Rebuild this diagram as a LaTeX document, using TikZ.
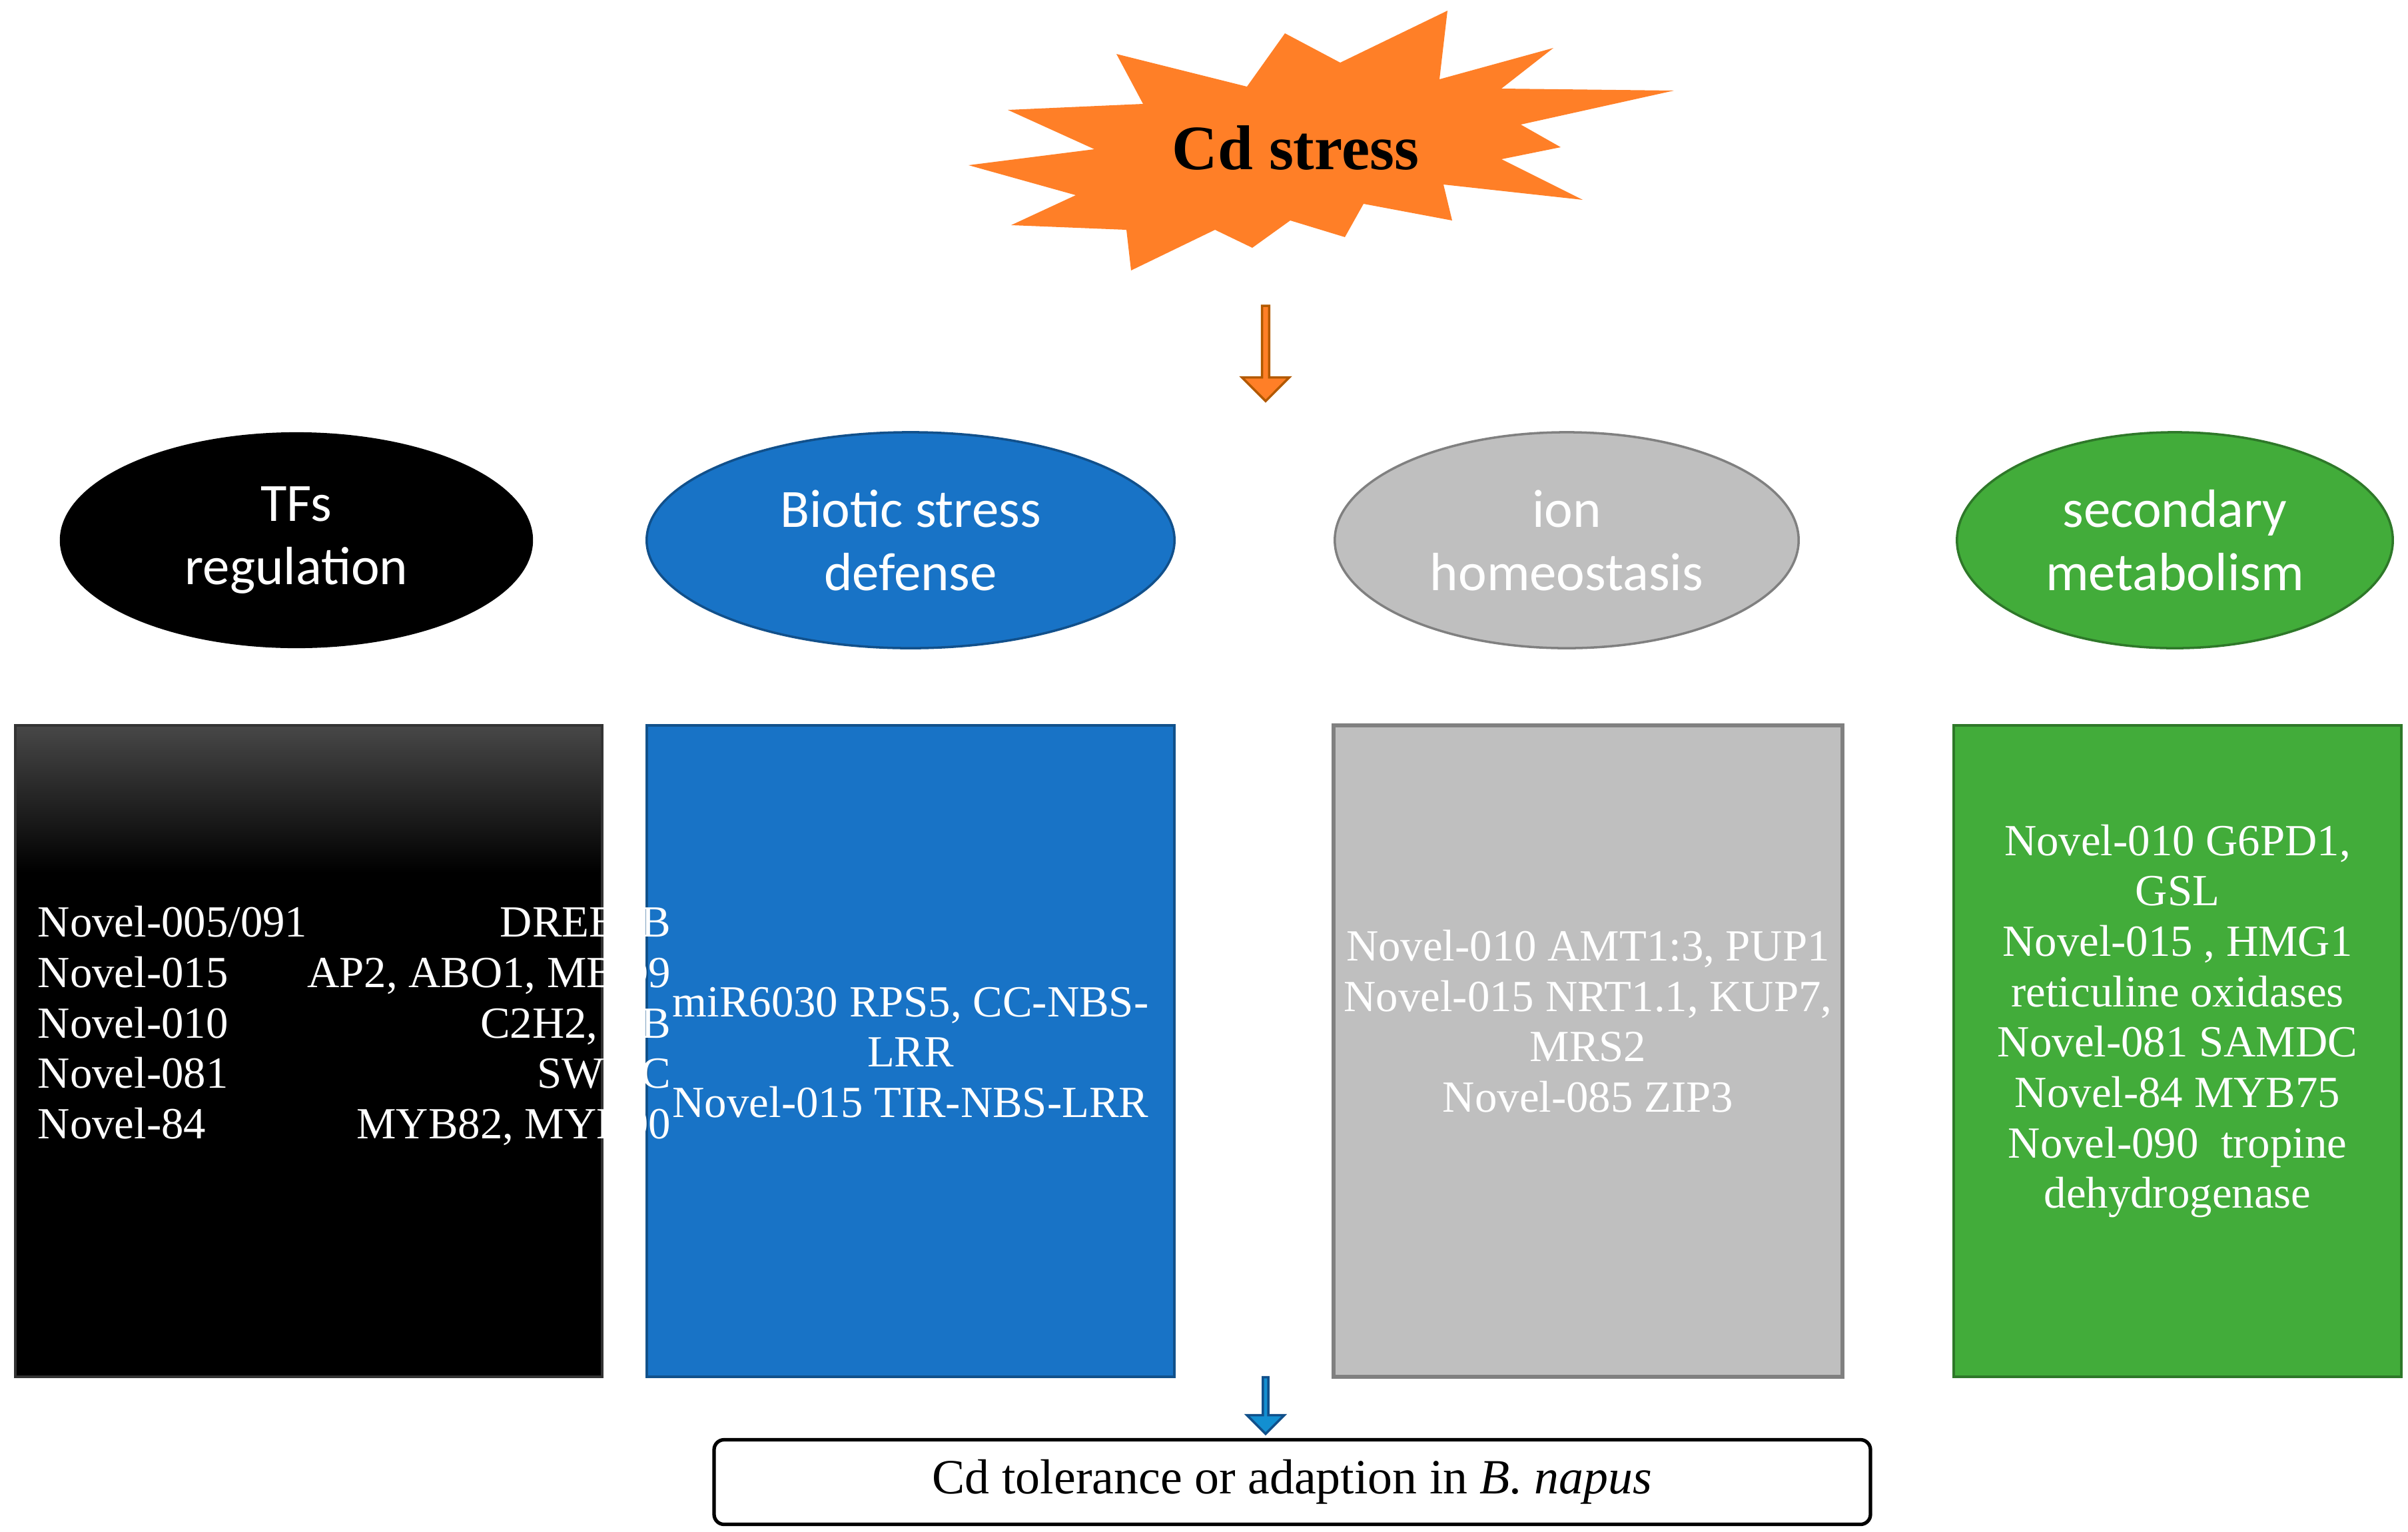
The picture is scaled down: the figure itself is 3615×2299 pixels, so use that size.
\documentclass[tikz,border=0pt]{standalone}
\usepackage{fontspec}
\setmainfont{Liberation Serif}
\newfontfamily\carlitofont{Carlito}
\usetikzlibrary{shapes.geometric,shapes.arrows}
\definecolor{cdorange}{RGB}{255,127,39}
\definecolor{cdblue}{RGB}{24,115,198}
\definecolor{cdgray}{RGB}{191,191,191}
\definecolor{cdgreen}{RGB}{66,172,58}
\tikzset{
 ell/.style={ellipse,minimum height=3.24cm,text=white,font=\carlitofont\fontsize{23}{27}\selectfont,align=center},
 btxt/.style={text=white,font=\fontsize{19}{21.5}\selectfont,align=center},
 barrow/.style={single arrow,draw,line width=1pt,shape border rotate=270,single arrow head extend=0.1cm,inner sep=0pt}
}
\begin{document}
\begin{tikzpicture}[x=0.01cm,y=-0.01cm]
\useasboundingbox (0,0) rectangle (3615,2299);
% starburst
\fill[cdorange] (2173,16)--(2012,94)--(1929,50)--(1872,130)--(1676,81)--(1716,156)--(1513,165)--(1643,224)--(1454,248)--(1615,293)--(1518,338)--(1691,345)--(1698,406)--(1824,345)--(1880,372)--(1937,331)--(2019,356)--(2047,306)--(2180,331)--(2167,277)--(2376,300)--(2254,239)--(2343,221)--(2283,187)--(2513,136)--(2254,133)--(2332,72)--(2161,119)--cycle;
\node[font=\bfseries\fontsize{27}{30}\selectfont] (cd) at (1945,222) {Cd stress};
% orange arrow
\node[barrow,fill=cdorange,draw=orange!70!black,minimum height=1.43cm,minimum width=0.71cm] (a1) at (1900,528) {};
% ellipses
\node[ell,fill=black,minimum width=7.1cm] (e1) at (445,811) {TFs\\regulation};
\node[ell,fill=cdblue,draw=cdblue!70!black,line width=1pt,minimum width=7.92cm] (e2) at (1367,811) {Biotic stress\\defense};
\node[ell,fill=cdgray,draw=gray,line width=1pt,minimum width=6.96cm] (e3) at (2352,811) {ion\\homeostasis};
\node[ell,fill=cdgreen,draw=cdgreen!70!black,line width=1pt,minimum width=6.54cm] (e4) at (3265,811) {secondary\\metabolism};
% boxes
\fill[black] (23,1089) rectangle (904,2067);
\shade[top color=black!72,bottom color=black] (23,1089) rectangle (904,1310);
\draw[black!80,line width=1pt] (23,1089) rectangle (904,2067);
\fill[cdblue] (971,1089) rectangle (1763,2067);
\draw[cdblue!70!black,line width=1pt] (971,1089) rectangle (1763,2067);
\fill[cdgray] (2002,1089) rectangle (2766,2067);
\draw[gray,line width=1.5pt] (2002,1089) rectangle (2766,2067);
\fill[cdgreen] (2933,1089) rectangle (3605,2067);
\draw[cdgreen!70!black,line width=1pt] (2933,1089) rectangle (3605,2067);
\node[btxt] (t1) at (462,1543) {\begin{tabular*}{8.1cm}{@{}l@{\extracolsep{\fill}}r@{}}
Novel-005/091 & DREB2B\\
Novel-015 & AP2, ABO1, MBD9\\
Novel-010 & C2H2, HB\\
Novel-081 & SWI3C\\
Novel-84 & MYB82, MYB90
\end{tabular*}};
\node[btxt] (t2) at (1367,1580) {miR6030 RPS5, CC-NBS-\\LRR\\Novel-015 TIR-NBS-LRR};
\node[btxt] (t3) at (2384,1533) {Novel-010 AMT1:3, PUP1\\Novel-015 NRT1.1, KUP7,\\MRS2\\Novel-085 ZIP3};
\node[btxt] (t4) at (3269,1533) {Novel-010 G6PD1,\\GSL\\Novel-015 , HMG1\\reticuline oxidases\\Novel-081 SAMDC\\Novel-84 MYB75\\Novel-090\ \ tropine\\dehydrogenase};
% blue arrow
\node[barrow,fill=cdblue!80!cyan,draw=cdblue!70!black,minimum height=0.85cm,minimum width=0.56cm] (a2) at (1900,2108) {};
% bottom box
\node[draw,line width=1.5pt,rounded corners=0.15cm,minimum width=17.35cm,minimum height=1.27cm,font=\fontsize{21}{24}\selectfont] (res) at (1940,2225) {Cd tolerance or adaption in \textit{B. napus}};
\end{tikzpicture}
\end{document}
